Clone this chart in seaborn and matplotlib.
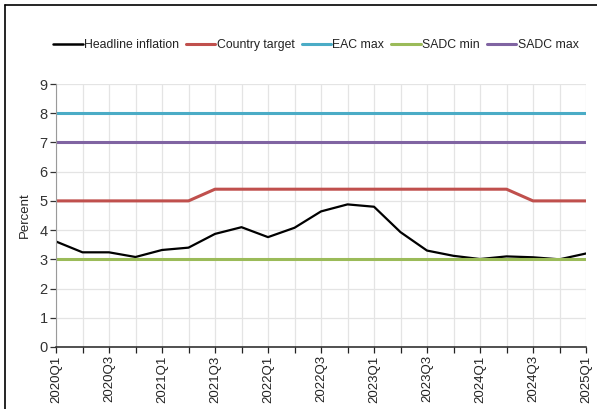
import numpy as np
import pandas as pd
import matplotlib
matplotlib.use("Agg")
import matplotlib.pyplot as plt
import seaborn as sns
from matplotlib.lines import Line2D

sns.set_style("white")
plt.rcParams["font.family"] = ["Liberation Sans", "DejaVu Sans"]

# --- data ---
quarters = [f"{y}Q{q}" for y in range(2020, 2025) for q in range(1, 5)] + ["2025Q1"]
headline = [3.61, 3.24, 3.24, 3.08, 3.32, 3.40, 3.87, 4.10, 3.76, 4.08, 4.64,
            4.88, 4.80, 3.93, 3.30, 3.12, 3.01, 3.10, 3.07, 3.00, 3.20]
country_target = [5.0] * 6 + [5.4] * 12 + [5.0] * 3
eac_max = [8.0] * 21
sadc_min = [3.0] * 21
sadc_max = [7.0] * 21

series_names = ["Headline inflation", "Country target", "EAC max", "SADC min", "SADC max"]
series_vals = [headline, country_target, eac_max, sadc_min, sadc_max]
colors = ["#000000", "#c0504d", "#4bacc6", "#9bbb59", "#8064a2"]
widths = [1.6, 2.2, 2.2, 2.2, 2.2]

df = pd.concat([
    pd.DataFrame({"idx": np.arange(len(quarters)), "value": v, "series": n})
    for n, v in zip(series_names, series_vals)
])

fig = plt.figure(figsize=(5.97, 4.09), dpi=100)
ax = fig.add_axes([56 / 597, 1 - 347 / 409, (586 - 56) / 597, (347 - 84) / 409])

# vertical / horizontal grid
ax.set_axisbelow(True)
ax.grid(True, color="#e4e4e4", linewidth=0.9)

for name, col, lw in zip(series_names, colors, widths):
    sns.lineplot(data=df[df["series"] == name], x="idx", y="value", color=col,
                 linewidth=lw, ax=ax, legend=False)

ax.set_xlim(0, len(quarters) - 1)
ax.set_ylim(0, 9)
ax.set_yticks(range(0, 10))
ax.set_xticks(range(len(quarters)))
ax.set_xticklabels([q if i % 2 == 0 else "" for i, q in enumerate(quarters)], rotation=90)
ax.tick_params(axis="both", direction="out", length=4, width=0.9, labelsize=9.5,
               colors="#222222", left=True, bottom=True, pad=2)
ax.tick_params(axis="y", labelsize=10.5, colors="#333333")
ax.set_xlabel("")
ax.set_ylabel("Percent", fontsize=9.5, labelpad=6)

sns.despine(ax=ax)
ax.spines["left"].set_color("#9a9a9a")
ax.spines["bottom"].set_color("#222222")
ax.spines["bottom"].set_linewidth(1.1)

handles = [Line2D([0], [0], color=c, linewidth=2.2 if c != "#000000" else 1.8) for c in colors]
fig.legend(handles, series_names, loc="center", bbox_to_anchor=(0.529, 1 - 45 / 409),
           ncol=5, frameon=False, fontsize=8.8, handlelength=2.4, handletextpad=0.1,
           columnspacing=0.6, labelcolor="#222222")

# outer frame (partially cropped)
fig.add_artist(Line2D([5 / 597, 1.0], [1 - 5 / 409, 1 - 5 / 409], color="black",
                      linewidth=1.2, transform=fig.transFigure))
fig.add_artist(Line2D([5 / 597, 5 / 597], [0.0, 1 - 5 / 409], color="black",
                      linewidth=1.2, transform=fig.transFigure))

fig.savefig("out.png", dpi=100)
